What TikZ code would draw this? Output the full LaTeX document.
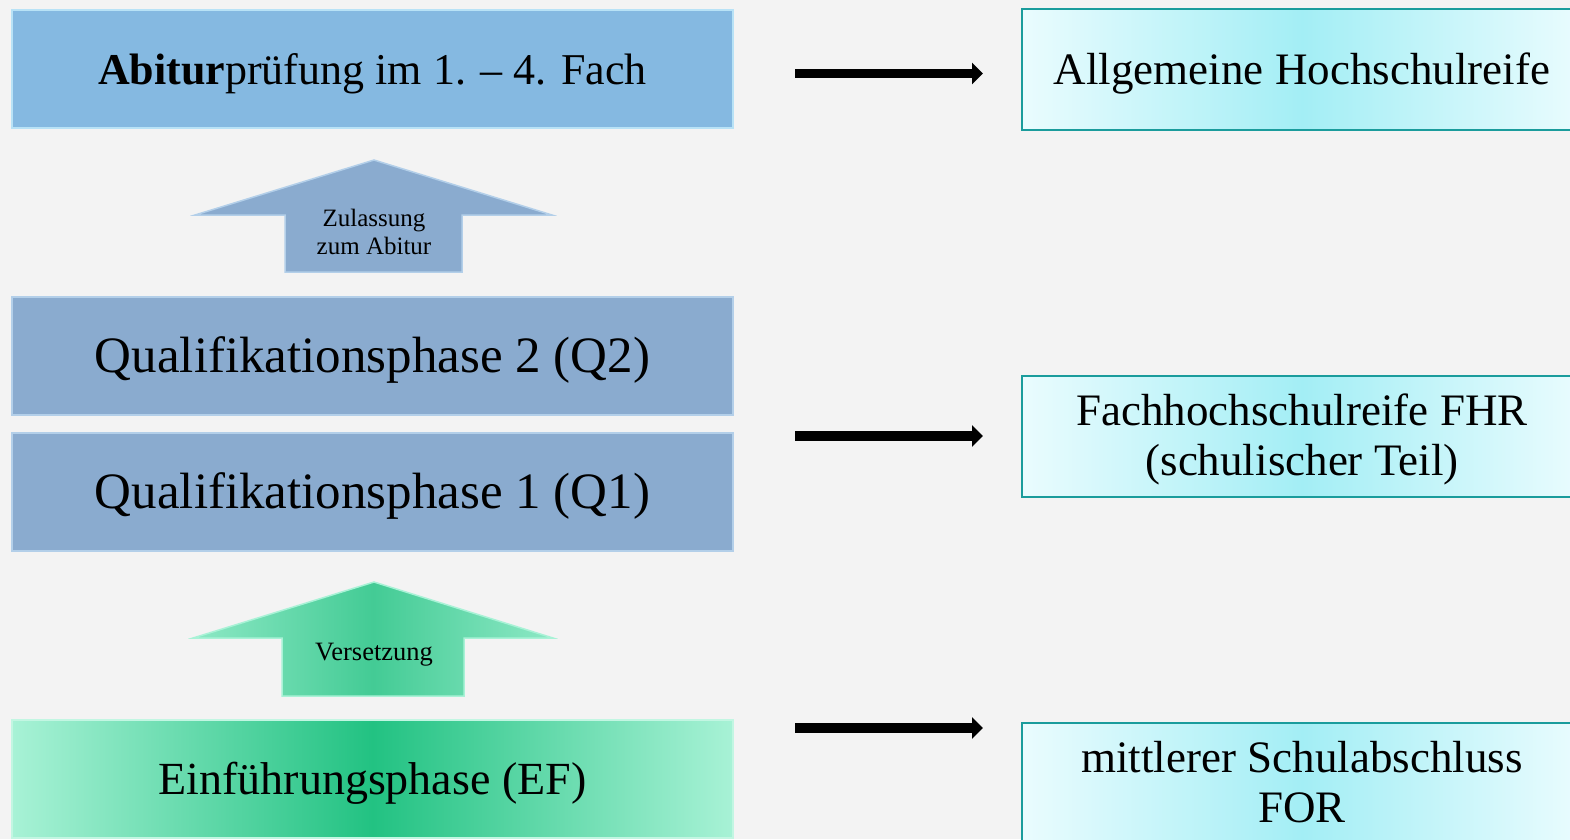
\documentclass[tikz,border=0pt]{standalone}
\usepackage{fontspec}
\setmainfont{Liberation Serif}
\usetikzlibrary{arrows.meta}
\definecolor{bgc}{HTML}{F3F3F3}
\definecolor{abi}{HTML}{85B9E1}
\definecolor{abiedge}{HTML}{B8E2F6}
\definecolor{qual}{HTML}{8AABCF}
\definecolor{qualedge}{HTML}{B3CFE9}
\definecolor{efmid}{HTML}{22C282}
\definecolor{efedge}{HTML}{A8F2D6}
\definecolor{cyanmid}{HTML}{A3EEF5}
\definecolor{cyanedge}{HTML}{EAFCFE}
\definecolor{tealc}{HTML}{1A9C9C}
\newcommand{\lowered}[2]{\raisebox{-#1}[\height][\depth]{#2}}
\newcommand{\twolines}[2]{\raisebox{-4pt}[\height][\depth]{\begin{tabular}{@{}c@{}}#1\\#2\end{tabular}}}
\tikzset{
  phase/.style={minimum width=721pt, minimum height=118pt, line width=2pt, inner sep=0pt, align=center},
  result/.style={minimum width=560pt, minimum height=121pt, draw=tealc, line width=2pt,
     left color=cyanedge, right color=cyanedge, middle color=cyanmid, align=center, inner sep=0pt},
  bigfont/.style={font=\fontsize{#1}{#1}\selectfont},
  blockarrow/.style={line width=1.5pt},
  outarrow/.style={line width=9.5pt, -{Triangle[length=11pt,width=21pt]}}
}
\begin{document}
\begin{tikzpicture}[x=1pt,y=-1pt]
\useasboundingbox (0,0) rectangle (1570,839);
\clip (0,0) rectangle (1570,839);
\fill[bgc] (0,0) rectangle (1570,839);

% left column boxes
\node[phase, fill=abi, draw=abiedge, bigfont=44] (abi) at (372.5,69) {\lowered{5pt}{\textbf{Abitur}prüfung im 1. – 4. Fach}};
\node[phase, fill=qual, draw=qualedge, bigfont=51] (q2) at (372.5,355.5) {\lowered{4pt}{Qualifikationsphase 2 (Q2)}};
\node[phase, fill=qual, draw=qualedge, bigfont=51] (q1) at (372.5,491.5) {\lowered{4pt}{Qualifikationsphase 1 (Q1)}};
\node[phase, left color=efedge, right color=efedge, middle color=efmid, draw=efedge!70!white, bigfont=46] (ef) at (372.5,779) {\lowered{4pt}{Einführungsphase (EF)}};

% block arrows
\draw[blockarrow, fill=qual, draw=qualedge] (374,160) -- (552,215) -- (462,215) -- (462,272) -- (285,272) -- (285,215) -- (195,215) -- cycle;
\node[align=center, font=\fontsize{25}{28}\selectfont] (zul) at (374,232) {Zulassung\\zum Abitur};
\shade[left color=efedge!80!efmid, right color=efedge!80!efmid, middle color=efmid!85!white, draw=efedge, blockarrow]
  (374,582) -- (553,638) -- (464,638) -- (464,696) -- (282,696) -- (282,638) -- (193,638) -- cycle;
\node[bigfont=26.5] (vers) at (374,655) {Versetzung};

% right column boxes
\node[result, bigfont=45] (ahr) at (1302,69.5) {\lowered{4pt}{Allgemeine Hochschulreife}};
\node[result, font=\fontsize{45}{50}\selectfont] (fhr) at (1302,436.5) {\twolines{Fachhochschulreife FHR}{(schulischer Teil)}};
\node[result, font=\fontsize{45}{50}\selectfont] (msa) at (1302,783.5) {\twolines{mittlerer Schulabschluss}{FOR}};

% output arrows
\coordinate (s1) at (795,73.5);  \coordinate (e1) at (983,73.5);
\coordinate (s2) at (795,436);   \coordinate (e2) at (983,436);
\coordinate (s3) at (795,728);   \coordinate (e3) at (983,728);
\draw[outarrow] (s1) -- (e1);
\draw[outarrow] (s2) -- (e2);
\draw[outarrow] (s3) -- (e3);
\end{tikzpicture}
\end{document}
